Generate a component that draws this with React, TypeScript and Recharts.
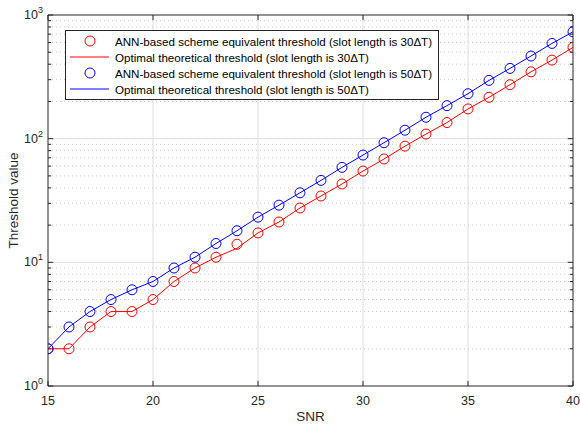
import React from 'react';
import { LineChart, Line, XAxis, YAxis, ReferenceLine, Legend, Label } from 'recharts';

// SNR (dB) on the x axis
const snr = [15, 16, 17, 18, 19, 20, 21, 22, 23, 24, 25, 26, 27, 28, 29, 30, 31, 32, 33, 34, 35, 36, 37, 38, 39, 40];

// slot length 30ΔT
const ann30 = [2, 2, 3, 4, 4, 5, 7, 9, 11, 14, 17.3, 21.2, 27.5, 34.4, 43, 54.7, 68.5, 87, 109, 135, 174, 216, 273, 347, 432, 547];
const opt30 = [2, 2, 3, 4, 4, 5, 7, 9, 11, 13, 17.3, 21.2, 27.5, 34.4, 43, 54.7, 68.5, 87, 109, 135, 174, 216, 273, 347, 432, 547];

// slot length 50ΔT
const ann50 = [2, 3, 4, 5, 6, 7, 9, 11, 14.2, 18, 23.2, 29, 36.5, 46, 58.6, 73.7, 92.7, 117, 149, 185, 231, 296, 370, 466, 589, 731];
const opt50 = [2, 3, 4, 5, 6, 7, 9, 11, 14.2, 18, 23.2, 29, 36.5, 46, 58.6, 73.7, 92.7, 117, 149, 185, 231, 296, 370, 466, 589, 731];

const xTicks = [15, 20, 25, 30, 35, 40];
const yTicks = [1, 10, 100, 1000];
const minorY = [1, 10, 100].flatMap((d) => [2, 3, 4, 5, 6, 7, 8, 9].map((m) => m * d));

const legendItems = [
  { label: 'ANN-based scheme equivalent threshold (slot length is 30\u0394T)', color: '#ff0000', kind: 'marker' },
  { label: 'Optimal theoretical threshold (slot length is 30\u0394T)', color: '#ff0000', kind: 'line' },
  { label: 'ANN-based scheme equivalent threshold (slot length is 50\u0394T)', color: '#0000ff', kind: 'marker' },
  { label: 'Optimal theoretical threshold (slot length is 50\u0394T)', color: '#0000ff', kind: 'line' },
];

const data = snr.map((s, i) => ({
  snr: s,
  ann30: ann30[i],
  opt30: opt30[i],
  ann50: ann50[i],
  opt50: opt50[i],
}));

const FONT = '"Liberation Sans", Arial, Helvetica, sans-serif';
const AXIS = '#262626';

const OpenCircle = (color: string) => (props: any) => {
  const { cx, cy, index } = props;
  if (cx == null || cy == null) return <g key={index} />;
  return <circle key={index} cx={cx} cy={cy} r={5} fill="none" stroke={color} strokeWidth={1} />;
};

const YTick = (props: any) => {
  const { x, y, payload } = props;
  const exp = Math.round(Math.log10(payload.value));
  return (
    <text x={x + 5} y={y + 4} textAnchor="end" fontSize={12.5} fill={AXIS} fontFamily={FONT}>
      <tspan>10</tspan>
      <tspan dy={-6} fontSize={9}>{exp}</tspan>
    </text>
  );
};

const LegendBox = () => (
  <div
    style={{
      border: `1px solid ${AXIS}`,
      background: '#fff',
      padding: '2px 6px 2px 3px',
      fontFamily: FONT,
      fontSize: 11.6,
      color: '#000',
    }}
  >
    {legendItems.map((it) => (
      <div key={it.label} style={{ display: 'flex', alignItems: 'center', height: 16, whiteSpace: 'nowrap' }}>
        <svg width={43} height={16} style={{ marginRight: 3 }}>
          {it.kind === 'marker' ? (
            <circle cx={21} cy={8} r={5} fill="none" stroke={it.color} strokeWidth={1} />
          ) : (
            <line x1={1} y1={8} x2={40} y2={8} stroke={it.color} strokeWidth={1} />
          )}
        </svg>
        <span>{it.label}</span>
      </div>
    ))}
  </div>
);

export default function App() {
  const tx = 0.25; // inward tick length in x units
  const ty = 1.1; // inward tick factor in y (log) units
  return (
    <div style={{ position: 'absolute', left: 0, top: 0, background: '#fff' }}>
      <LineChart width={580} height={426} data={data} margin={{ top: 15, right: 7, bottom: 0, left: 0 }}>
        <XAxis
          dataKey="snr"
          type="number"
          domain={[15, 40]}
          ticks={xTicks}
          tickLine={false}
          axisLine={{ stroke: AXIS }}
          height={40}
          tick={{ fontSize: 12.5, fill: AXIS, fontFamily: FONT }}
          tickMargin={4}
          allowDataOverflow
        >
          <Label value="SNR" position="insideBottom" offset={5} fontSize={13.5} fill={AXIS} fontFamily={FONT} />
        </XAxis>
        <YAxis
          scale="log"
          domain={[1, 1000]}
          ticks={yTicks}
          tickLine={false}
          axisLine={{ stroke: AXIS }}
          width={48}
          tick={<YTick />}
          tickMargin={4}
          allowDataOverflow
        >
          <Label
            value="Threshold value"
            angle={-90}
            position="insideLeft"
            offset={13}
            fontSize={13.5}
            fill={AXIS}
            fontFamily={FONT}
            style={{ textAnchor: 'middle' }}
          />
        </YAxis>

        {/* minor grid */}
        {minorY.map((v) => (
          <ReferenceLine key={'mg' + v} y={v} stroke="#c8c8c8" strokeDasharray="1 3" />
        ))}
        {/* major grid */}
        {[10, 100].map((v) => (
          <ReferenceLine key={'g' + v} y={v} stroke="#dedede" />
        ))}
        {[20, 25, 30, 35].map((v) => (
          <ReferenceLine key={'gx' + v} x={v} stroke="#dedede" />
        ))}

        {/* box */}
        <ReferenceLine y={1000} stroke={AXIS} />
        <ReferenceLine x={40} stroke={AXIS} />

        {/* inward ticks */}
        {xTicks.map((v) => (
          <ReferenceLine key={'bt' + v} segment={[{ x: v, y: 1 }, { x: v, y: ty }]} stroke={AXIS} />
        ))}
        {xTicks.map((v) => (
          <ReferenceLine key={'tt' + v} segment={[{ x: v, y: 1000 }, { x: v, y: 1000 / ty }]} stroke={AXIS} />
        ))}
        {yTicks.map((v) => (
          <ReferenceLine key={'lt' + v} segment={[{ x: 15, y: v }, { x: 15 + tx, y: v }]} stroke={AXIS} />
        ))}
        {yTicks.map((v) => (
          <ReferenceLine key={'rt' + v} segment={[{ x: 40, y: v }, { x: 40 - tx, y: v }]} stroke={AXIS} />
        ))}
        {minorY.map((v) => (
          <ReferenceLine key={'lm' + v} segment={[{ x: 15, y: v }, { x: 15 + tx * 0.6, y: v }]} stroke={AXIS} />
        ))}
        {minorY.map((v) => (
          <ReferenceLine key={'rm' + v} segment={[{ x: 40, y: v }, { x: 40 - tx * 0.6, y: v }]} stroke={AXIS} />
        ))}

        <Line dataKey="opt30" stroke="#ff0000" strokeWidth={1} dot={false} isAnimationActive={false} />
        <Line dataKey="ann30" stroke="none" dot={OpenCircle('#ff0000')} isAnimationActive={false} />
        <Line dataKey="opt50" stroke="#0000ff" strokeWidth={1} dot={false} isAnimationActive={false} />
        <Line dataKey="ann50" stroke="none" dot={OpenCircle('#0000ff')} isAnimationActive={false} />

        <Legend
          layout="horizontal"
          verticalAlign="middle"
          align="center"
          content={<LegendBox />}
          wrapperStyle={{ left: 65, top: 30, width: 'auto' }}
        />
      </LineChart>
    </div>
  );
}
